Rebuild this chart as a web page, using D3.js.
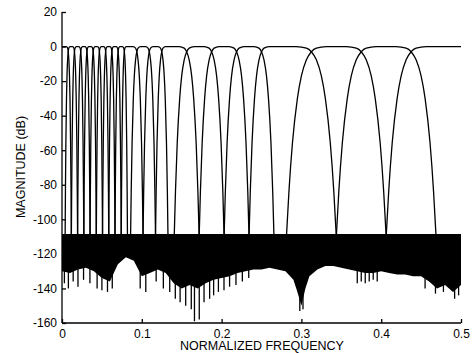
<!DOCTYPE html>
<html><head><meta charset="utf-8">
<script src="https://cdn.jsdelivr.net/npm/d3@7"></script>
<style>html,body{margin:0;padding:0;background:#fff;} svg{display:block;}</style>
</head><body><svg id="c" width="474" height="353"></svg>
<script>
// Filter-bank band edges (normalized frequency)
const bandEdges = [0, 0.0078125, 0.015625, 0.0234375, 0.03125, 0.0390625, 0.046875, 0.0546875, 0.0625, 0.0703125, 0.078125,
  0.09375, 0.109375, 0.125, 0.15625, 0.1875, 0.21875, 0.25, 0.3125, 0.375, 0.4375, 0.5];
// Shape of one band-edge transition (offset in transition half-widths, dB)
const lobeOffset = [-1, -0.6, -0.2, 0, 0.2, 0.4, 0.56, 0.76, 0.9, 1];
const lobeDb = [0, -0.03, -0.9, -3, -7.7, -17, -30, -56, -84, -110];
// Stopband floor (dense ripple region)
const floorTopDb = -108.5;
const floorFreq = [0,0.01,0.02,0.03,0.04,0.05,0.06,0.07,0.08,0.09,0.10,0.11,0.12,0.13,0.14,0.15,0.16,0.17,0.18,0.19,0.20,
  0.21,0.22,0.23,0.24,0.25,0.26,0.27,0.28,0.29,0.295,0.30,0.305,0.31,0.32,0.33,0.34,0.35,0.36,0.37,0.38,0.39,0.40,
  0.41,0.42,0.43,0.44,0.45,0.46,0.47,0.48,0.49,0.50];
const floorBottomDb = [-130,-131,-129,-128,-130,-134,-136,-126,-122,-124,-133,-131,-129,-131,-137,-140,-138,-140,-137,-135,-134,
  -133,-131,-130,-129,-129,-128,-129,-130,-135,-142,-150,-140,-133,-129,-127,-127,-128,-129,-130,-131,-131,-130,
  -131,-132,-132,-133,-133,-136,-140,-138,-142,-138];
const spikeFreq = [0.003,0.008,0.014,0.02,0.027,0.035,0.044,0.05,0.057,0.063,0.098,0.105,0.118,0.127,0.135,0.142,0.148,0.155,
  0.162,0.166,0.172,0.178,0.185,0.19,0.196,0.203,0.21,0.218,0.226,0.234,0.298,0.302,0.37,0.375,0.38,0.385,0.39,0.395,
  0.455,0.468,0.478,0.492,0.497];
const spikeDb = [-137,-140,-136,-139,-135,-137,-140,-141,-142,-140,-140,-142,-136,-140,-142,-146,-148,-150,
  -152,-159,-158,-148,-146,-144,-142,-141,-139,-138,-136,-134,-153,-152,-137,-136,-137,-136,-135,-136,
  -140,-143,-142,-146,-144];
const xTicks = [0, 0.1, 0.2, 0.3, 0.4, 0.5];
const yTicks = [20, 0, -20, -40, -60, -80, -100, -120, -140, -160];

const svg = d3.select("#c");
const x = d3.scaleLinear().domain([0, 0.5]).range([62, 461]);
const y = d3.scaleLinear().domain([-160, 20]).range([323, 12]);
const font = "Liberation Sans, Arial, Helvetica, sans-serif";

// band curves
const nE = bandEdges.length;
function edgeW(i) {
  return Math.min((bandEdges[i] - bandEdges[i-1]) / 2, (bandEdges[i+1] - bandEdges[i]) / 2);
}
const line = d3.line().x(d => x(d[0])).y(d => y(d[1])).curve(d3.curveMonotoneX);
const g = svg.append("g");
for (let i = 0; i < nE - 1; i++) {
  const a = bandEdges[i], b = bandEdges[i+1];
  const pts = [];
  const push = p => { if (!pts.length || p[0] > pts[pts.length-1][0] + 1e-9) pts.push(p); };
  if (i > 0) {
    const w = edgeW(i);
    for (let k = lobeOffset.length - 1; k >= 0; k--) push([a - lobeOffset[k] * w, lobeDb[k]]);
  } else push([a, 0]);
  if (i + 1 < nE - 1) {
    const w = edgeW(i + 1);
    for (let k = 0; k < lobeOffset.length; k++) push([b + lobeOffset[k] * w, lobeDb[k]]);
  } else push([b, 0]);
  g.append("path").attr("d", line(pts)).attr("fill", "none").attr("stroke", "#000").attr("stroke-width", 1.3);
}

// stopband floor
const fl = floorFreq.map((f, i) => [f, floorBottomDb[i]]);
svg.append("path")
  .attr("d", d3.area().x(d => x(d[0])).y0(d => y(d[1])).y1(y(floorTopDb))(fl))
  .attr("fill", "#000");
svg.append("g").selectAll("line").data(spikeFreq.map((f, i) => [f, spikeDb[i]])).join("line")
  .attr("x1", d => x(d[0])).attr("x2", d => x(d[0]))
  .attr("y1", y(floorTopDb)).attr("y2", d => y(d[1]))
  .attr("stroke", "#000").attr("stroke-width", 1.3);

// axes
const xAxis = d3.axisBottom(x).tickValues(xTicks).tickSize(-4).tickPadding(6).tickFormat(d => String(d));
const yAxis = d3.axisLeft(y).tickValues(yTicks).tickSize(-4).tickPadding(5).tickFormat(d => String(d));
const gx = svg.append("g").attr("transform", "translate(0,323)").call(xAxis);
const gy = svg.append("g").attr("transform", "translate(62,0)").call(yAxis);
[gx, gy].forEach(ax => {
  ax.select(".domain").attr("stroke", "#000").attr("stroke-width", 1.3);
  ax.selectAll(".tick line").attr("stroke", "#000").attr("stroke-width", 1.3);
  ax.selectAll("text").attr("fill", "#000").style("font-family", font).style("font-size", "12px");
});
gx.select(".domain").attr("d", "M62,0H461");
gy.select(".domain").attr("d", "M0,12V323");

svg.append("text").attr("x", 262).attr("y", 350).attr("text-anchor", "middle")
  .style("font-family", font).style("font-size", "12.5px").text("NORMALIZED FREQUENCY");
svg.append("text").attr("transform", "translate(25,167) rotate(-90)").attr("text-anchor", "middle")
  .style("font-family", font).style("font-size", "12.5px").text("MAGNITUDE (dB)");
</script></body></html>
